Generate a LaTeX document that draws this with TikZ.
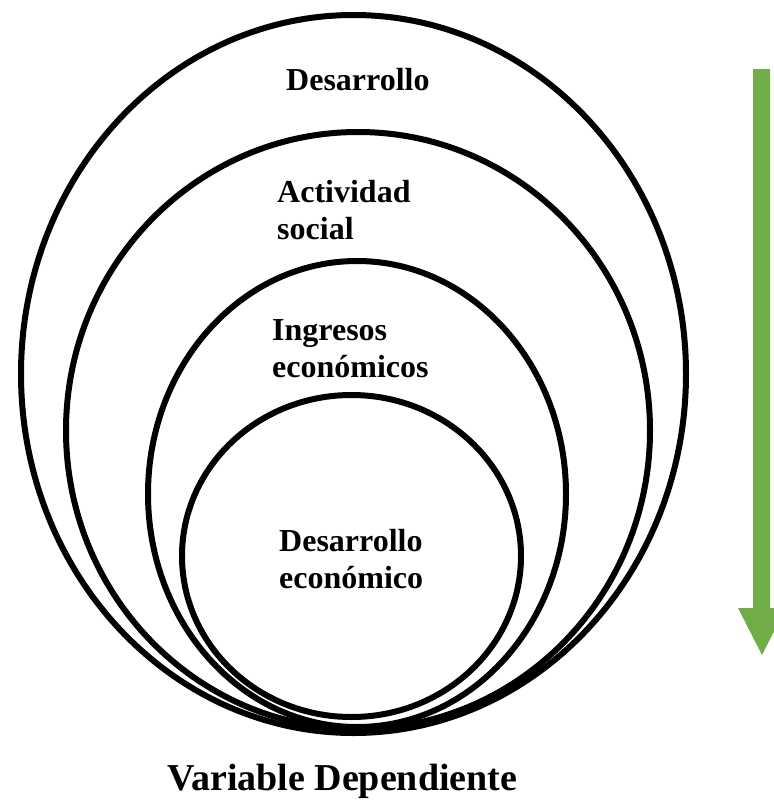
\documentclass[tikz,border=0pt]{standalone}
\usepackage{fontspec}
\setmainfont{Liberation Serif}
\usetikzlibrary{shapes.geometric,positioning}

\definecolor{arrowgreen}{RGB}{112,173,71}

\begin{document}
\begin{tikzpicture}[
    x=1pt, y=-1pt,
    ring/.style={ellipse, draw, line width=6pt, inner sep=0pt},
    lbl/.style={font=\bfseries\fontsize{32}{37}\selectfont, align=left, anchor=base west, inner sep=0pt},
    title/.style={font=\bfseries\fontsize{38}{44}\selectfont, anchor=base west, inner sep=0pt},
]
    \useasboundingbox (0,0) rectangle (774,801);

    % Nested levels
    \node[ring, minimum width=665pt, minimum height=718pt] (desarrollo) at (353.5,374) {};
    \node[ring, minimum width=584pt, minimum height=597pt] (actividad) at (358,430.5) {};
    \node[ring, minimum width=418pt, minimum height=466pt] (ingresos) at (357,494) {};
    \node[ring, minimum width=339pt, minimum height=322pt] (economico) at (351.5,556) {};

    % Level names (anchor = baseline of last line)
    \node[lbl] (tdesarrollo) at (286,90) {Desarrollo};
    \node[lbl] (tactividad) at (277,239) {Actividad\\social};
    \node[lbl] (tingresos) at (272,377) {Ingresos\\económicos};
    \node[lbl] (teconomico) at (279,588) {Desarrollo\\económico};

    % Direction arrow
    \coordinate (arrtop) at (761.5,69);
    \coordinate (arrtip) at (762,655);
    \fill[arrowgreen] (753,69) -- (770,69) -- (770,608) -- (786,608)
        -- (arrtip) -- (738,608) -- (753,608) -- cycle;

    \node[title] (variable) at (167,790) {Variable Dependiente};
\end{tikzpicture}
\end{document}
